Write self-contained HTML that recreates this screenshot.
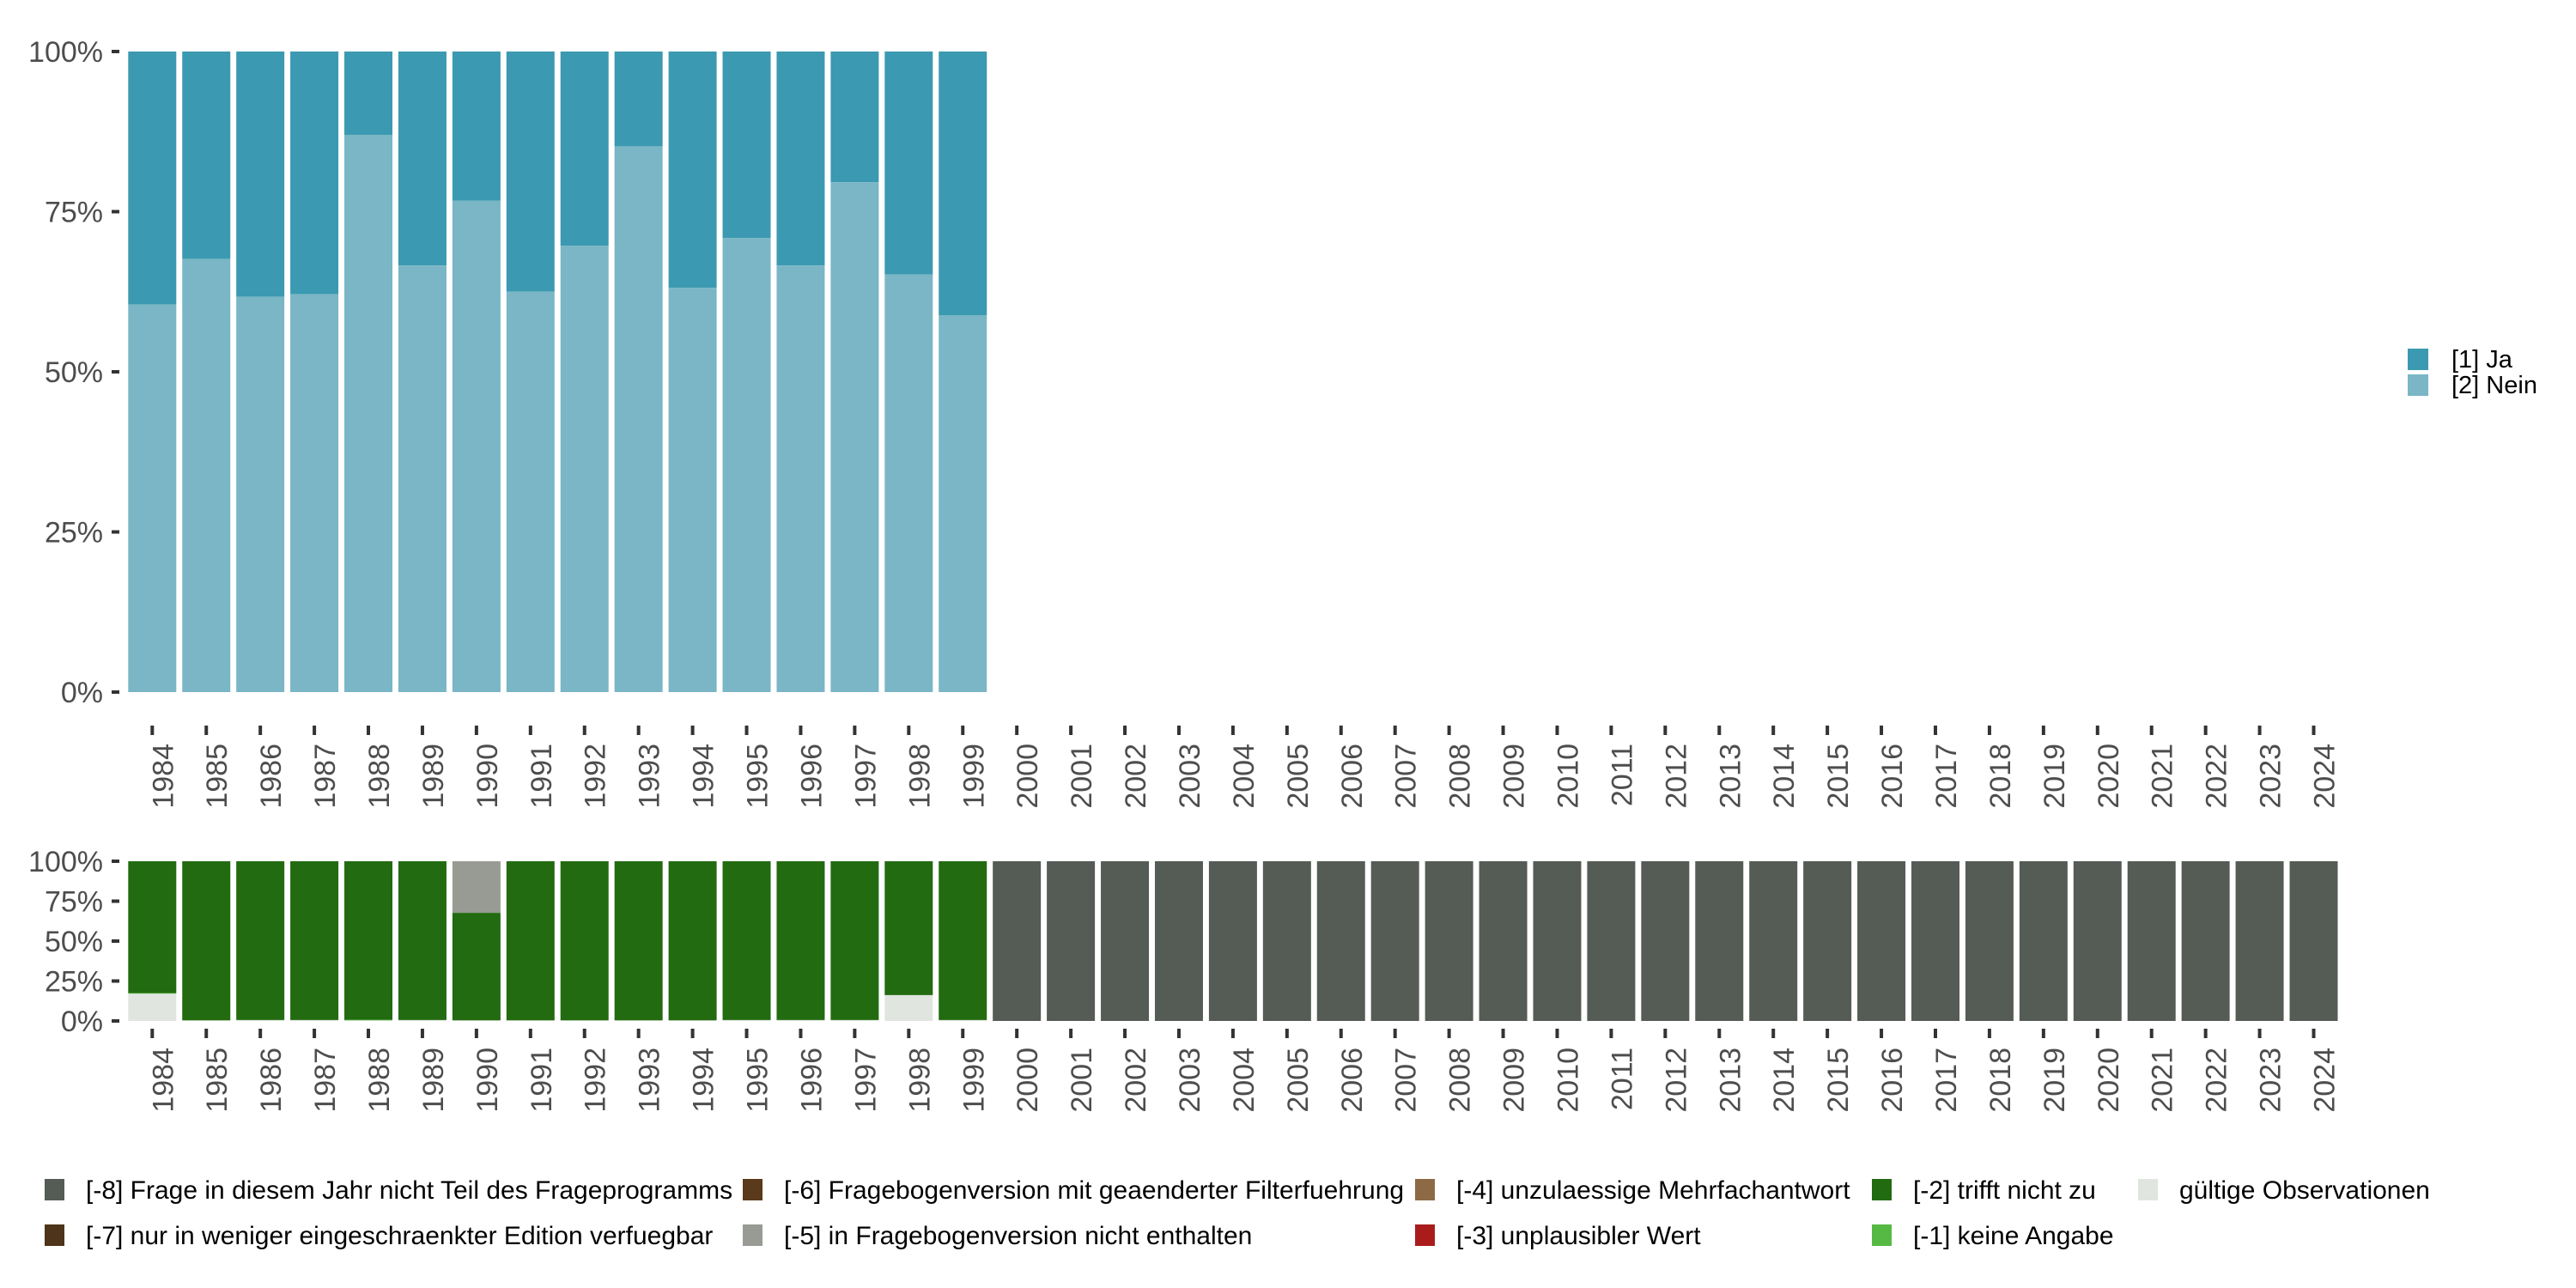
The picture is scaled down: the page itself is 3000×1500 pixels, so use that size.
<!DOCTYPE html>
<html><head><meta charset="utf-8"><style>
html,body{margin:0;padding:0;background:#fff;}
svg{display:block;font-family:"Liberation Sans",sans-serif;}
</style></head><body>
<svg id="chart" width="3000" height="1500" viewBox="0 0 3000 1500" xmlns="http://www.w3.org/2000/svg"></svg>
<script>
const years = [];
for (let y = 1984; y <= 2024; y++) years.push(String(y));
const topYears = ["1984","1985","1986","1987","1988","1989","1990","1991","1992","1993","1994","1995","1996","1997","1998","1999"];
const neinShare = [0.605,0.676,0.617,0.621,0.870,0.666,0.767,0.625,0.697,0.852,0.631,0.709,0.666,0.796,0.652,0.588];
const yTickValues = [0,0.25,0.5,0.75,1];
const yTickLabels = ["0%","25%","50%","75%","100%"];
const validShare = [0.171,0.004,0.006,0.006,0.004,0.006,0.004,0.004,0.004,0.004,0.004,0.006,0.006,0.006,0.162,0.006];
const keineAngabeShare = [0.004,0,0,0,0.004,0,0,0,0,0,0,0,0,0,0,0];
const nichtEnthaltenShare = [0,0,0,0,0,0,0.323,0,0,0,0,0,0,0,0,0];

const svg = document.getElementById('chart');
const NS = 'http://www.w3.org/2000/svg';
function mk(tag, attrs, parent) {
  const e = document.createElementNS(NS, tag);
  for (const k in attrs) e.setAttribute(k, attrs[k]);
  (parent || svg).appendChild(e);
  return e;
}
const pitch = 62.93, firstCenter = 177.3, barW = 56;
function xCenter(i) { return firstCenter + i * pitch; }
function yTop(v) { return 806 - v * (806 - 60); }
function yBot(v) { return 1189 - v * (1189 - 1003); }

function yAxis(scale, name) {
  const g = mk('g', {});
  
  
  yTickValues.forEach((v, i) => {
    const y = scale(v);
    const t = mk('rect', {x: 130, y: y - 2, width: 9, height: 4, fill: '#333'}, g);
    
    
    const tx = mk('text', {x: 120, y: y + 12, 'text-anchor': 'end', 'font-size': 34, fill: '#4d4d4d'}, g);
    tx.textContent = yTickLabels[i];
    
    
  });
}
function xAxis(tickY0, tickY1, labelTop, name) {
  const g = mk('g', {});
  
  
  years.forEach((yr, i) => {
    const cx = xCenter(i);
    const t = mk('rect', {x: cx - 2, y: tickY0, width: 4, height: tickY1 - tickY0, fill: '#333'}, g);
    
    
    const tx = mk('text', {x: 0, y: 0, 'text-anchor': 'end', 'font-size': 34, fill: '#4d4d4d',
      transform: 'translate(' + (cx + 24) + ',' + labelTop + ') rotate(-90)'}, g);
    tx.textContent = yr;
    
    
  });
}

const C_JA = '#3b99b1', C_NEIN = '#7ab6c5';
const gTop = mk('g', {});


topYears.forEach((yr, i) => {
  const x = xCenter(i) - barW / 2;
  const n = neinShare[i];
  const r1 = mk('rect', {x: x, y: yTop(1), width: barW, height: yTop(n) - yTop(1), fill: C_JA}, gTop);
  
  
  const r2 = mk('rect', {x: x, y: yTop(n), width: barW, height: yTop(0) - yTop(n), fill: C_NEIN}, gTop);
  
  
});
yAxis(yTop, 'top-y-axis');
xAxis(845, 856, 866, 'top-x-axis');

const C_VALID = '#e1e5e0', C_M1 = '#56b943', C_M2 = '#226b10', C_M5 = '#989b94', C_M8 = '#555b55';
const gBot = mk('g', {});


years.forEach((yr, i) => {
  const x = xCenter(i) - barW / 2;
  let segs;
  if (i < validShare.length) {
    const v = validShare[i], k = keineAngabeShare[i], n5 = nichtEnthaltenShare[i];
    segs = [[v, C_VALID, 'valid'], [k, C_M1, 'keine-angabe'], [1 - v - k - n5, C_M2, 'trifft-nicht-zu'], [n5, C_M5, 'nicht-enthalten']];
  } else {
    segs = [[1, C_M8, 'nicht-teil']];
  }
  let cum = 0;
  segs.forEach(s => {
    if (s[0] <= 0) return;
    const r = mk('rect', {x: x, y: yBot(cum + s[0]), width: barW, height: yBot(cum) - yBot(cum + s[0]), fill: s[1]}, gBot);
    
    
    cum += s[0];
  });
});
yAxis(yBot, 'bottom-y-axis');
xAxis(1198, 1209, 1220, 'bottom-x-axis');

const rl = mk('g', {});


[['[1] Ja', C_JA, 406], ['[2] Nein', C_NEIN, 436]].forEach(e => {
  const r = mk('rect', {x: 2804, y: e[2], width: 24, height: 25, fill: e[1]}, rl);
  
  
  const t = mk('text', {x: 2855, y: e[2] + 22, 'font-size': 29, fill: '#000'}, rl);
  t.textContent = e[0];
  
  
});

const bl = mk('g', {});


const legItems = [
  ['[-8] Frage in diesem Jahr nicht Teil des Frageprogramms', C_M8, 52, 1373],
  ['[-7] nur in weniger eingeschraenkter Edition verfuegbar', '#4e341a', 52, 1426],
  ['[-6] Fragebogenversion mit geaenderter Filterfuehrung', '#5a3a1a', 865, 1373],
  ['[-5] in Fragebogenversion nicht enthalten', C_M5, 865, 1426],
  ['[-4] unzulaessige Mehrfachantwort', '#8d6a45', 1648, 1373],
  ['[-3] unplausibler Wert', '#aa1c1c', 1648, 1426],
  ['[-2] trifft nicht zu', C_M2, 2180, 1373],
  ['[-1] keine Angabe', C_M1, 2180, 1426],
  ['gültige Observationen', C_VALID, 2490, 1373]
];
legItems.forEach(e => {
  const r = mk('rect', {x: e[2], y: e[3], width: 23, height: 25, fill: e[1]}, bl);
  
  
  const t = mk('text', {x: e[2] + 48, y: e[3] + 23, 'font-size': 30, fill: '#000'}, bl);
  t.textContent = e[0];
  
  
});
</script>
</body></html>
